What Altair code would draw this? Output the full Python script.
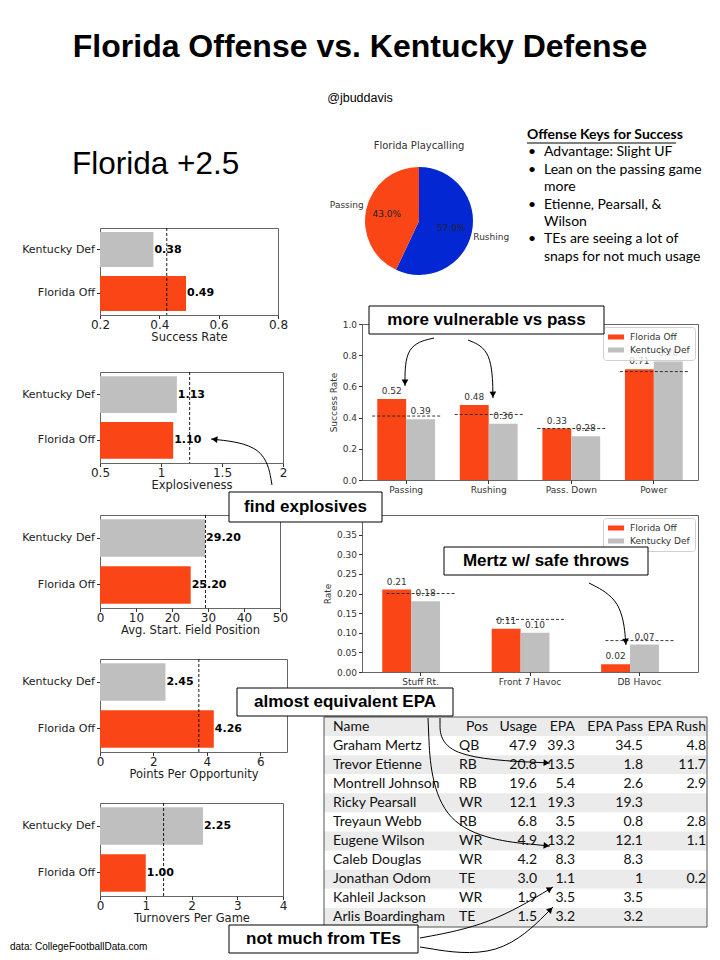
import math
import altair as alt
import pandas as pd

# ---------------- data ----------------
teams = ["Kentucky Def", "Florida Off"]
metric_titles = ["Success Rate", "Explosiveness", "Avg. Start. Field Position",
                 "Points Per Opportunity", "Turnovers Per Game"]
kentucky_def = [0.38, 1.13, 29.20, 2.45, 2.25]
florida_off = [0.49, 1.10, 25.20, 4.26, 1.00]
national_avg = [0.425, 1.235, 29.3, 3.70, 1.39]
metric_domains = [[0.2, 0.8], [0.5, 2.0], [0, 50], [0, 7], [0, 4]]
metric_ticks = [[0.2, 0.4, 0.6, 0.8], [0.5, 1, 1.5, 2], [0, 10, 20, 30, 40, 50],
                [0, 2, 4, 6], [0, 1, 2, 3, 4]]

play_types = ["Rushing", "Passing"]
play_share = [57.0, 43.0]

keys_title = "Offense Keys for Success"
keys_bullets = ["•", "•", "", "•", "", "•", ""]
keys_lines = ["Advantage: Slight UF", "Lean on the passing game", "more",
              "Etienne, Pearsall, &", "Wilson", "TEs are seeing a lot of",
              "snaps for not much usage"]

legend_teams = ["Florida Off", "Kentucky Def"]
sr_cats = ["Passing", "Rushing", "Pass. Down", "Power"]
sr_florida = [0.52, 0.48, 0.33, 0.71]
sr_kentucky = [0.39, 0.36, 0.28, 0.76]
sr_avg = [0.41, 0.42, 0.33, 0.695]

hv_cats = ["Stuff Rt.", "Front 7 Havoc", "DB Havoc"]
hv_florida = [0.21, 0.11, 0.02]
hv_kentucky = [0.18, 0.10, 0.07]
hv_avg = [0.20, 0.134, 0.08]

tbl_cols = ["Name", "Pos", "Usage", "EPA", "EPA Pass", "EPA Rush"]
tbl_name = ["Graham Mertz", "Trevor Etienne", "Montrell Johnson", "Ricky Pearsall",
            "Treyaun Webb", "Eugene Wilson", "Caleb Douglas", "Jonathan Odom",
            "Kahleil Jackson", "Arlis Boardingham"]
tbl_pos = ["QB", "RB", "RB", "WR", "RB", "WR", "WR", "TE", "WR", "TE"]
tbl_usage = ["47.9", "20.8", "19.6", "12.1", "6.8", "4.9", "4.2", "3.0", "1.9", "1.5"]
tbl_epa = ["39.3", "13.5", "5.4", "19.3", "3.5", "13.2", "8.3", "1.1", "3.5", "3.2"]
tbl_epa_pass = ["34.5", "1.8", "2.6", "19.3", "0.8", "12.1", "8.3", "1", "3.5", "3.2"]
tbl_epa_rush = ["4.8", "11.7", "2.9", "", "2.8", "1.1", "", "0.2", "", ""]

title_text = "Florida Offense vs. Kentucky Defense"
handle_text = "@jbuddavis"
spread_text = "Florida +2.5"
source_text = "data: CollegeFootballData.com"

callouts = ["more vulnerable vs pass", "find explosives", "Mertz w/ safe throws",
            "almost equivalent EPA", "not much from TEs"]

# ---------------- styling / layout ----------------
ORANGE = "#FA4616"
GRAY = "#BFBFBF"
BLUE = "#0427D4"
MPL = "DejaVu Sans"
ARIAL = "Liberation Sans"
CAL = "Lato"
FRAME = alt.ViewBackground(stroke="#666666", strokeWidth=1)

# page-coordinate geometry of the call-out boxes and arrows
callout_boxes = [(369, 306, 604, 334), (229, 492, 382, 522), (444, 547, 648, 575),
                 (237, 688, 453, 716), (229, 925, 418, 953)]
arrow_paths = [((434, 338), (405, 345), (405, 386)),
               ((468, 340), (492, 350), (493, 398)),
               ((272, 485), (265, 445), (211, 439)),
               ((589, 583), (622, 600), (626, 645)),
               ((440, 718), (440, 758), (550, 763)),
               ((428, 718), (433, 835), (550, 846)),
               ((420, 938), (490, 925), (553, 887)),
               ((420, 947), (500, 960), (553, 907))]


def spacer(h):
    return alt.Chart(pd.DataFrame({"s": [0]})).mark_point(opacity=0).encode(
        x=alt.value(0), y=alt.value(0)).properties(width=1, height=h)


def metric_panel(i, w, h):
    bars = pd.DataFrame({"team": teams, "value": [kentucky_def[i], florida_off[i]]})
    avg = pd.DataFrame({"value": [national_avg[i]]})
    xscale = alt.Scale(domain=metric_domains[i], nice=False, zero=False)
    xenc = alt.X("value:Q", title=metric_titles[i], scale=xscale,
                 axis=alt.Axis(values=metric_ticks[i], tickCount=len(metric_ticks[i]),
                               labelExpr="datum.value + ''",
                               grid=False, domain=False, labelOverlap=False,
                               labelFontSize=12, labelFlush=False, tickSize=3.5,
                               tickColor="#333", labelColor="#222", titleColor="#222",
                               titleFontSize=11.5, titleFontWeight="normal",
                               titlePadding=1, labelPadding=1))
    yenc = alt.Y("team:N", sort=teams, title=None,
                 scale=alt.Scale(paddingInner=0.2, paddingOuter=0.09),
                 axis=alt.Axis(labelFontSize=11, tickSize=3.5, domain=False, labelPadding=2,
                               tickColor="#333", labelColor="#222"))
    color = alt.Color("team:N", scale=alt.Scale(domain=teams, range=[GRAY, ORANGE]), legend=None)
    b = alt.Chart(bars).mark_bar(clip=True).encode(x=xenc, y=yenc, color=color)
    r = alt.Chart(avg).mark_rule(strokeDash=[3, 2], color="black", strokeWidth=0.9).encode(
        x=alt.X("value:Q", scale=xscale))
    t = alt.Chart(bars).mark_text(align="left", baseline="middle", dx=1, fontSize=11,
                                  fontWeight="bold", font=MPL, color="black").encode(
        x=alt.X("value:Q", scale=xscale), y=alt.Y("team:N", sort=teams),
        text=alt.Text("value:Q", format=".2f"))
    return alt.layer(b, r, t).properties(width=w, height=h, view=FRAME)


def group_panel(cats, fl, ky, avg, ytitle, ydomain, yticks, yfmt, w, h):
    df = pd.DataFrame({"cat": cats * 2,
                       "team": [legend_teams[0]] * len(cats) + [legend_teams[1]] * len(cats),
                       "value": fl + ky})
    adf = pd.DataFrame({"cat": cats, "avg": avg})
    x = alt.X("cat:N", sort=cats, title=None,
              scale=alt.Scale(paddingInner=0.3, paddingOuter=0.185),
              axis=alt.Axis(labelAngle=0, labelFontSize=9, tickSize=3.5, domain=False,
                            labelColor="#333", tickColor="#333", labelPadding=2))
    xo = alt.XOffset("team:N", scale=alt.Scale(domain=legend_teams, paddingInner=0, paddingOuter=0))
    yscale = alt.Scale(domain=ydomain, nice=False, zero=True)
    y = alt.Y("value:Q", title=ytitle, scale=yscale,
              axis=alt.Axis(values=yticks, format=yfmt, grid=False, domain=False,
                            labelOverlap=False, tickCount=len(yticks),
                            labelFontSize=9, titleFontSize=9, titleFontWeight="normal",
                            tickSize=3.5, labelColor="#333", titleColor="#333",
                            tickColor="#333", labelFlush=False, titlePadding=4, labelPadding=2))
    color = alt.Color("team:N", scale=alt.Scale(domain=legend_teams, range=[ORANGE, GRAY]),
                      legend=alt.Legend(title=None, orient="top-right", offset=3,
                                        fillColor="rgba(255,255,255,0.8)", strokeColor="#d0d0d0",
                                        cornerRadius=3, padding=5, labelFontSize=9,
                                        labelColor="#333", labelFont=MPL,
                                        symbolType="M-1.6,-0.5L1.6,-0.5L1.6,0.5L-1.6,0.5Z",
                                        symbolSize=100, symbolStrokeWidth=0, rowPadding=3,
                                        labelOffset=9, symbolOffset=3))
    bars = alt.Chart(df).mark_bar().encode(x=x, xOffset=xo, y=y, color=color)
    labels = alt.Chart(df).mark_text(baseline="bottom", dy=-3, fontSize=9, font=MPL,
                                     color="#333").encode(
        x=alt.X("cat:N", sort=cats), xOffset=xo,
        y=alt.Y("value:Q", scale=yscale),
        text=alt.Text("value:Q", format=".2f"))
    rule = alt.Chart(adf).mark_rule(strokeDash=[3, 2], color="#222", strokeWidth=0.9,
                                    xOffset=-34, x2Offset=34).encode(
        x=alt.X("cat:N", sort=cats), x2=alt.X2("cat"),
        y=alt.Y("avg:Q", scale=yscale))
    return alt.layer(bars, rule, labels).properties(width=w, height=h, view=FRAME)


# ---------------- left column ----------------
one = pd.DataFrame({"t": [0]})
page_rect = alt.Chart(one).mark_rect(fill="white").encode(
    x=alt.value(-92), x2=alt.value(612), y=alt.value(0), y2=alt.value(944))
title = alt.Chart(pd.DataFrame({"t": [title_text]})).mark_text(
    font=ARIAL, fontSize=32, fontWeight="bold", color="black", align="center",
    baseline="middle").encode(text="t:N", x=alt.value(260), y=alt.value(39))
handle = alt.Chart(pd.DataFrame({"t": [handle_text]})).mark_text(
    font=ARIAL, fontSize=12.5, color="black", align="center", baseline="middle").encode(
    text="t:N", x=alt.value(260), y=alt.value(90))
spread = alt.Chart(pd.DataFrame({"t": [spread_text]})).mark_text(
    font=ARIAL, fontSize=31.5, color="black", align="left", baseline="middle").encode(
    text="t:N", x=alt.value(-28), y=alt.value(157))
source = alt.Chart(pd.DataFrame({"t": [source_text]})).mark_text(
    font=ARIAL, fontSize=10, color="black", align="left", baseline="middle").encode(
    text="t:N", x=alt.value(-90), y=alt.value(939))
header = alt.layer(page_rect, title, handle, spread, source).properties(width=1, height=220)

left = alt.vconcat(
    header,
    metric_panel(0, 178, 87), spacer(57),
    metric_panel(1, 183, 91), spacer(52),
    metric_panel(2, 180, 93), spacer(51),
    metric_panel(3, 187, 93), spacer(51),
    metric_panel(4, 183, 93),
    spacing=0, bounds="flush"
).resolve_scale(color="independent").resolve_legend(color="independent")

# ---------------- right column ----------------
pie_df = pd.DataFrame({"type": play_types, "pct": play_share, "ord": [0, 1],
                       "label": [f"{v:.1f}%" for v in play_share]})
PCX, PCY = 57, 213
theta = alt.Theta("pct:Q", stack=True)
pie_color = alt.Color("type:N", scale=alt.Scale(domain=play_types, range=[BLUE, ORANGE]), legend=None)
arc = alt.Chart(pie_df).mark_arc(outerRadius=54).encode(
    theta=theta, color=pie_color, order=alt.Order("ord:Q"), x=alt.value(PCX), y=alt.value(PCY))
pie_names = alt.Chart(pie_df).mark_text(radius=74, fontSize=9, font=MPL, color="#333").encode(
    theta=theta, order=alt.Order("ord:Q"), text="type:N", x=alt.value(PCX), y=alt.value(PCY))
pie_pcts = alt.Chart(pie_df).mark_text(radius=33, fontSize=9, font=MPL, color="#222").encode(
    theta=theta, order=alt.Order("ord:Q"), text="label:N", x=alt.value(PCX), y=alt.value(PCY))
pie_title = alt.Chart(pd.DataFrame({"t": ["Florida Playcalling"]})).mark_text(
    fontSize=10, font=MPL, color="#333").encode(text="t:N", x=alt.value(PCX), y=alt.value(138))

key_y = [144, 162, 179, 197, 214, 231, 249]
keys_df = pd.DataFrame({"b": keys_bullets, "t": keys_lines, "y": key_y})
keys_head = alt.Chart(pd.DataFrame({"t": [keys_title]})).mark_text(
    font=CAL, fontSize=14, fontWeight="bold", color="black", align="left", baseline="middle").encode(
    text="t:N", x=alt.value(165), y=alt.value(127))
keys_under = alt.Chart(one).mark_rule(color="black", strokeWidth=1).encode(
    x=alt.value(165), x2=alt.value(314), y=alt.value(135))
keys_bul = alt.Chart(keys_df).mark_text(
    font=CAL, fontSize=14, color="black", align="left", baseline="middle").encode(
    text="b:N", x=alt.value(166), y=alt.Y("y:Q", scale=None, axis=None))
keys_txt = alt.Chart(keys_df).mark_text(
    font=CAL, fontSize=14, color="black", align="left", baseline="middle").encode(
    text="t:N", x=alt.value(182), y=alt.Y("y:Q", scale=None, axis=None))
pie_panel = alt.layer(arc, pie_names, pie_pcts, pie_title, keys_head, keys_under,
                      keys_bul, keys_txt).properties(width=336, height=316)

g1 = group_panel(sr_cats, sr_florida, sr_kentucky, sr_avg, "Success Rate", [0, 1.0],
                 [0, 0.2, 0.4, 0.6, 0.8, 1.0], ".1f", 336, 156)
g2 = group_panel(hv_cats, hv_florida, hv_kentucky, hv_avg, "Rate", [0, 0.4],
                 [0, 0.05, 0.1, 0.15, 0.2, 0.25, 0.3, 0.35], ".2f", 336, 157)

# table
n = len(tbl_name)
rows = list(range(n + 1))
tdf = pd.DataFrame({"row": rows,
                    "shade": ["#EBEBEB" if r % 2 == 0 else "#FFFFFF" for r in rows]})
body = pd.DataFrame({"row": list(range(1, n + 1)), "Name": tbl_name, "Pos": tbl_pos,
                     "Usage": tbl_usage, "EPA": tbl_epa, "EPA Pass": tbl_epa_pass,
                     "EPA Rush": tbl_epa_rush})
ty = alt.Y("row:O", scale=alt.Scale(domain=rows, paddingInner=0, paddingOuter=0), axis=None)
shade = alt.Chart(tdf).mark_rect().encode(
    y=ty, x=alt.value(-38), x2=alt.value(345), color=alt.Color("shade:N", scale=None))
border = alt.Chart(one).mark_rect(filled=False, stroke="#555555", strokeWidth=1).encode(
    x=alt.value(-38), x2=alt.value(345), y=alt.value(0), y2=alt.value(210))
col_x = [-29, 97, 175, 213, 281, 344]
col_align = ["left", "left", "right", "right", "right", "right"]
head_x = [-29, 126, 175, 213, 281, 344]
head_align = ["left", "right", "right", "right", "right", "right"]
table_layers = [shade, border]
for c, cx, ca, hx, ha in zip(tbl_cols, col_x, col_align, head_x, head_align):
    table_layers.append(alt.Chart(body).mark_text(
        font=CAL, fontSize=14, color="#111", align=ca, baseline="middle").encode(
        y=ty, x=alt.value(cx), text=alt.Text(f"{c}:N")))
    table_layers.append(alt.Chart(pd.DataFrame({"row": [0], "h": [c]})).mark_text(
        font=CAL, fontSize=14, color="#111", align=ha, baseline="middle").encode(
        y=ty, x=alt.value(hx), text="h:N"))

# annotations (drawn last, relative to table origin)
OX, OY = 362, 717
box_df = pd.DataFrame({"t": callouts,
                       "x0": [b[0] - OX for b in callout_boxes], "y0": [b[1] - OY for b in callout_boxes],
                       "x1": [b[2] - OX for b in callout_boxes], "y1": [b[3] - OY for b in callout_boxes]})
box_df["cx"] = (box_df.x0 + box_df.x1) / 2
box_df["cy"] = (box_df.y0 + box_df.y1) / 2
pts, heads = [], []
for k, (p0, p1, p2) in enumerate(arrow_paths):
    for i, p in enumerate((p0, p1, p2)):
        pts.append({"id": k, "i": i, "x": p[0] - OX, "y": p[1] - OY})
    dx, dy = p2[0] - p1[0], p2[1] - p1[1]
    L = math.hypot(dx, dy)
    ux, uy = dx / L, dy / L
    heads.append({"x": p2[0] - OX - ux * 3.5, "y": p2[1] - OY - uy * 3.5,
                  "ang": math.degrees(math.atan2(dx, -dy)) % 360})
arrows = alt.Chart(pd.DataFrame(pts)).mark_line(interpolate="basis", color="black", strokeWidth=1).encode(
    x=alt.X("x:Q", scale=None, axis=None), y=alt.Y("y:Q", scale=None, axis=None),
    detail="id:N", order="i:Q")
heads_m = alt.Chart(pd.DataFrame(heads)).mark_point(shape="triangle-up", filled=True, size=45,
                                                    color="black", opacity=1).encode(
    x=alt.X("x:Q", scale=None, axis=None), y=alt.Y("y:Q", scale=None, axis=None),
    angle=alt.Angle("ang:Q", scale=None))
boxes = alt.Chart(box_df).mark_rect(fill="white", stroke="black", strokeWidth=1).encode(
    x=alt.X("x0:Q", scale=None, axis=None), x2="x1:Q",
    y=alt.Y("y0:Q", scale=None, axis=None), y2="y1:Q")
box_text = alt.Chart(box_df).mark_text(font=ARIAL, fontSize=17, fontWeight="bold", color="black",
                                       align="center", baseline="middle").encode(
    x=alt.X("cx:Q", scale=None, axis=None), y=alt.Y("cy:Q", scale=None, axis=None), text="t:N")

table = alt.layer(*table_layers, arrows, heads_m, boxes, box_text).resolve_scale(
    x="independent", y="independent").properties(width=346, height=210)

right = alt.vconcat(
    pie_panel, g1, spacer(35), g2, spacer(45), table,
    spacing=0, bounds="flush"
).resolve_scale(color="independent").resolve_legend(color="independent")

chart = alt.hconcat(left, right, spacing=262, bounds="flush", padding=0).resolve_scale(
    color="independent").resolve_legend(color="independent").configure(
    background="white").configure_view(strokeWidth=0).configure_axis(
    labelFont=MPL, titleFont=MPL, grid=False, labelOverlap=False).configure_legend(labelFont=MPL)

chart.save("out.html", embed_options={"renderer": "svg", "actions": False})
